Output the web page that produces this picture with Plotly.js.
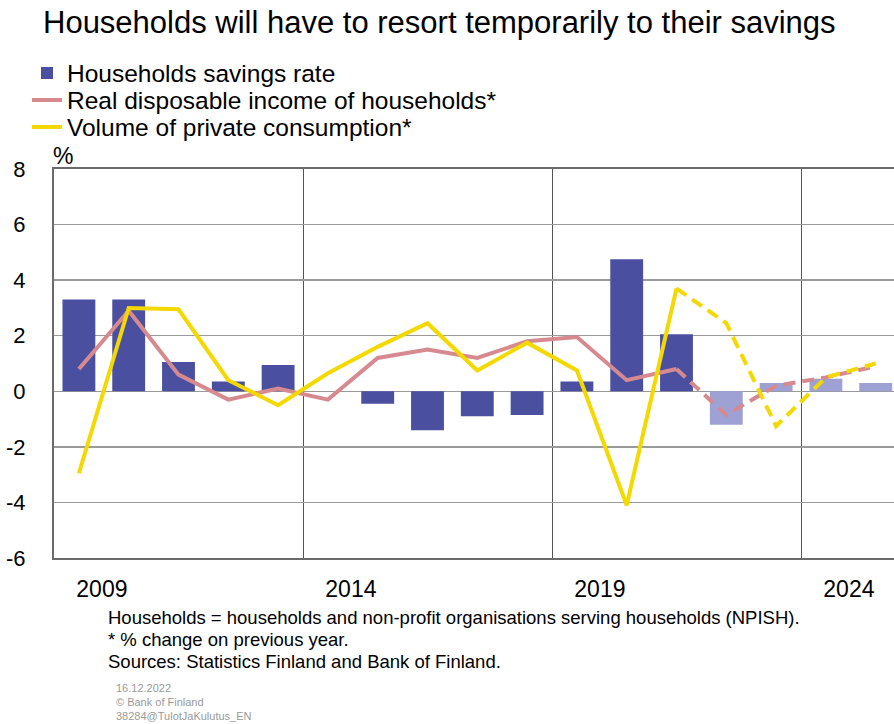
<!DOCTYPE html>
<html>
<head>
<meta charset="utf-8">
<script src="https://cdn.plot.ly/plotly-3.0.1.min.js"></script>
<style>
html,body{margin:0;padding:0;background:#fff;}
#chart{width:894px;height:724px;}
</style>
</head>
<body>
<div id="chart"></div>
<script>
var years = [2009,2010,2011,2012,2013,2014,2015,2016,2017,2018,2019,2020,2021,2022,2023,2024,2025];
var savingsRate = [3.3,3.3,1.05,0.35,0.95,0.0,-0.45,-1.4,-0.9,-0.85,0.35,4.75,2.05,-1.2,0.3,0.45,0.3];
var disposableIncome = [0.8,2.9,0.6,-0.3,0.1,-0.3,1.2,1.5,1.2,1.8,1.95,0.4,0.8,-0.85,0.2,0.5,0.9];
var privateConsumption = [-2.95,3.0,2.95,0.4,-0.5,0.65,1.6,2.45,0.75,1.75,0.75,-4.1,3.7,2.45,-1.25,0.5,1.0];
var forecastFrom = 2022;
var xTickLabels = ['2009','2014','2019','2024'];
var xTickValues = [2009,2014,2019,2024];
var yTickValues = [-6,-4,-2,0,2,4,6,8];
var yTickLabels = ['-6','-4','-2','0','2','4','6','8'];

var names = ['Households savings rate','Real disposable income of households*','Volume of private consumption*'];
var footLines = ['Households = households and non-profit organisations serving households (NPISH).',
                 '* % change on previous year.',
                 'Sources: Statistics Finland and Bank of Finland.'];
var creditLines = ['16.12.2022','© Bank of Finland','38284@TulotJaKulutus_EN'];

var darkBar = '#4b4f9f', lightBar = '#9da1d4', pink = '#d68a90', yellow = '#f3d900';

var barColors = years.map(function(y){ return y >= forecastFrom ? lightBar : darkBar; });
var histIdx = years.indexOf(forecastFrom - 1);
function head(a){ return a.slice(0, histIdx + 1); }
function tail(a){ return a.slice(histIdx); }

var font = 'Liberation Sans, Arial, sans-serif';

var traces = [
  {type:'bar', x:years, y:savingsRate, name:names[0], width:0.66, legend:'legend',
   marker:{color:barColors, line:{width:0}}},
  {type:'scatter', mode:'lines', x:head(years), y:head(disposableIncome), name:names[1], legend:'legend2',
   line:{color:pink, width:4}},
  {type:'scatter', mode:'lines', x:tail(years), y:tail(disposableIncome), showlegend:false,
   line:{color:pink, width:4, dash:'12px,7px'}},
  {type:'scatter', mode:'lines', x:head(years), y:head(privateConsumption), name:names[2], legend:'legend3',
   line:{color:yellow, width:4}},
  {type:'scatter', mode:'lines', x:tail(years), y:tail(privateConsumption), showlegend:false,
   line:{color:yellow, width:4, dash:'12px,7px'}}
];

function legendAt(yc){
  return {x:27/894, xref:'container', y:1-yc/724, yref:'container', xanchor:'left', yanchor:'middle',
    font:{family:font, size:24.5, color:'#000'}, bgcolor:'rgba(0,0,0,0)', borderwidth:0,
    itemwidth:30, itemclick:false};
}

var annotations = [
  {text:'%', xref:'paper', yref:'paper', x:-3/840, y:1+13/389, xanchor:'left', yanchor:'middle',
   showarrow:false, font:{family:font, size:23, color:'#000'}}
];
var footY = [617, 639, 661];
footLines.forEach(function(t, i){
  annotations.push({text:t, xref:'paper', yref:'paper', x:(106-54)/840, y:-(footY[i]-558)/389,
    xanchor:'left', yanchor:'middle', align:'left', showarrow:false,
    font:{family:font, size:18.5, color:'#000'}});
});
var credY = [688, 702, 716];
creditLines.forEach(function(t, i){
  annotations.push({text:t, xref:'paper', yref:'paper', x:(114-54)/840, y:-(credY[i]-558)/389,
    xanchor:'left', yanchor:'middle', align:'left', showarrow:false,
    font:{family:font, size:11, color:'#9a9a9a'}});
});

var layout = {
  width:894, height:724,
  margin:{l:54, r:0, t:169, b:166, autoexpand:false},
  paper_bgcolor:'#fff', plot_bgcolor:'#fff',
  font:{family:font, color:'#000', size:20},
  showlegend:true,
  title:{text:'Households will have to resort temporarily to their savings',
    x:43/894, xanchor:'left', xref:'container', y:1-22/724, yanchor:'middle', yref:'container',
    font:{family:font, size:31, color:'#000'}},
  legend:legendAt(73),
  legend2:legendAt(100),
  legend3:legendAt(127),
  bargap:0.34,
  xaxis:{range:[2008.5, 2008.5 + 840/49.8], tickvals:xTickValues, ticktext:xTickLabels,
    showgrid:false, zeroline:false, ticks:'', ticklabelstandoff:9, ticklabelshift:23,
    showline:true, linecolor:'#6b6b6b', linewidth:2, mirror:true,
    tickfont:{family:font, size:23, color:'#000'},
    minor:{tick0:2013.5, dtick:5, showgrid:true, gridcolor:'#555', gridwidth:1, ticks:''}},
  yaxis:{range:[-6,8], tickvals:yTickValues, ticktext:yTickLabels, showgrid:true, gridcolor:'#9a9a9a', gridwidth:1.5,
    zeroline:true, zerolinecolor:'#9a9a9a', zerolinewidth:1.5, ticks:'', ticklabelstandoff:22,
    showline:true, linecolor:'#6b6b6b', linewidth:2,
    tickfont:{family:font, size:22, color:'#000'}},
  annotations:annotations
};

Plotly.newPlot('chart', traces, layout, {displayModeBar:false, staticPlot:true});
</script>
</body>
</html>
